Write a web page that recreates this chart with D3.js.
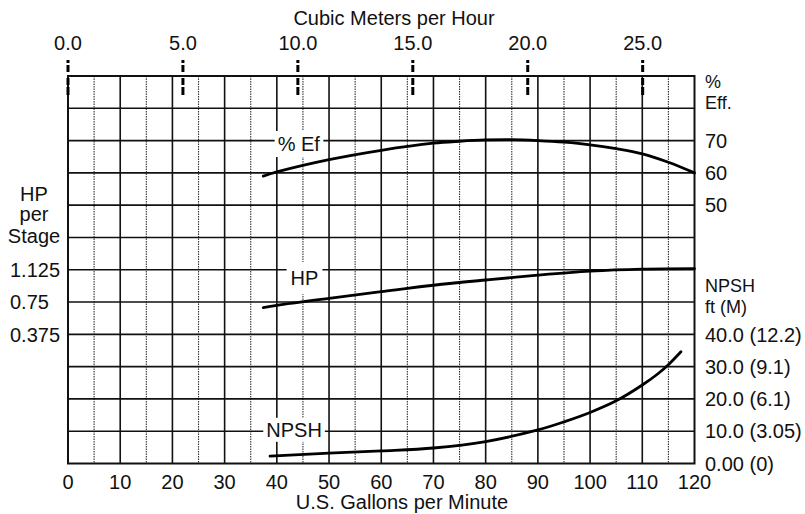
<!DOCTYPE html>
<html>
<head>
<meta charset="utf-8">
<script src="https://cdn.jsdelivr.net/npm/d3@7"></script>
<style>
  html, body { margin: 0; padding: 0; background: #fff; }
  svg { display: block; }
  text { font-family: "Liberation Sans", Arial, Helvetica, sans-serif; fill: #111; }
</style>
</head>
<body>
<svg id="chart" width="805" height="514"></svg>
<script>
// ---- data ----
const gpmTicks = [0, 10, 20, 30, 40, 50, 60, 70, 80, 90, 100, 110, 120];
const m3hTicks = [0, 5, 10, 15, 20, 25];
const m3hLabels = ["0.0", "5.0", "10.0", "15.0", "20.0", "25.0"];
const effTicks = [70, 60, 50];
const hpTicks = [1.125, 0.75, 0.375];
const hpLabels = ["1.125", "0.75", "0.375"];
const npshTicks = [40, 30, 20, 10, 0];
const npshLabels = ["40.0 (12.2)", "30.0 (9.1)", "20.0 (6.1)", "10.0 (3.05)", "0.00 (0)"];

const effGpm = [37.4, 40, 50, 60, 70, 75, 80, 85, 90, 95, 100, 105, 110, 115, 120];
const effVal = [59.0, 60.3, 64.1, 67.0, 69.2, 69.8, 70.2, 70.3, 70.0, 69.5, 68.7, 67.5, 65.9, 63.3, 60.0];

const hpGpm = [37.4, 40, 50, 60, 70, 80, 90, 100, 110, 120];
const hpVal = [0.686, 0.712, 0.793, 0.87, 0.945, 1.006, 1.062, 1.108, 1.132, 1.138];

const npshGpm = [38.7, 50, 60, 70, 80, 90, 95, 100, 105, 110, 113, 115, 117.4];
const npshVal = [2.3, 3.2, 3.9, 4.8, 6.8, 10.4, 12.9, 15.8, 19.4, 24.3, 27.8, 30.6, 34.6];

const GPM_PER_M3H = 4.4029;

// ---- layout ----
const svg = d3.select("#chart");
const L = 68, R = 694.5, T = 76, B = 463.5;
const FONT = 20;

const x = d3.scaleLinear().domain([0, 120]).range([L, R]);
const xTop = d3.scaleLinear().domain([0, 120 / GPM_PER_M3H]).range([L, R]);
const row = d3.scaleLinear().domain([0, 12]).range([B, T]);
const yEff = d3.scaleLinear().domain([-30, 90]).range([B, T]);
const yHp = d3.scaleLinear().domain([-1.125, 3.375]).range([B, T]);
const yNpsh = d3.scaleLinear().domain([0, 120]).range([B, T]);

// ---- grid ----
const g = svg.append("g");
g.selectAll("line.minor").data(d3.range(5, 120, 10)).join("line")
  .attr("x1", d => x(d)).attr("x2", d => x(d)).attr("y1", T).attr("y2", B)
  .attr("stroke", "#333").attr("stroke-width", 1.1).attr("stroke-dasharray", "1.5,1");
g.selectAll("line.vmaj").data(d3.range(10, 120, 10)).join("line")
  .attr("x1", d => x(d)).attr("x2", d => x(d)).attr("y1", T).attr("y2", B)
  .attr("stroke", "#111").attr("stroke-width", 1.6);
g.selectAll("line.h").data(d3.range(1, 12)).join("line")
  .attr("x1", L).attr("x2", R).attr("y1", d => row(d)).attr("y2", d => row(d))
  .attr("stroke", "#111").attr("stroke-width", 1.6);
g.append("rect").attr("x", L).attr("y", T).attr("width", R - L).attr("height", B - T)
  .attr("fill", "none").attr("stroke", "#111").attr("stroke-width", 2);

// ---- curve labels (white boxes break the grid) ----
function curveLabel(txt, gx, yScale, yv, padX, padY) {
  const cx = x(gx), cy = yScale(yv);
  const t = svg.append("text").attr("x", cx).attr("y", cy).attr("dy", "0.36em")
    .attr("text-anchor", "middle").attr("font-size", FONT).text(txt);
  const bb = t.node().getBBox();
  svg.insert("rect", "text").attr("x", bb.x - padX).attr("y", bb.y - padY)
    .attr("width", bb.width + 2 * padX).attr("height", bb.height + 2 * padY).attr("fill", "#fff");
}
curveLabel("% Ef", 44.2, yEff, 69.0, 3, 2);
curveLabel("HP", 45.3, yHp, 1.03, 4, 5);
curveLabel("NPSH", 43.3, yNpsh, 10.5, 3, 1);

// ---- curves ----
const lineGen = (ys) => d3.line().x(d => x(d[0])).y(d => ys(d[1])).curve(d3.curveCatmullRom.alpha(0.5));
[[effGpm, effVal, yEff], [hpGpm, hpVal, yHp], [npshGpm, npshVal, yNpsh]].forEach(([gx, gv, ys]) => {
  svg.append("path").datum(d3.zip(gx, gv)).attr("d", lineGen(ys))
    .attr("fill", "none").attr("stroke", "#000").attr("stroke-width", 2.8)
    .attr("stroke-linecap", "round");
});

// ---- top axis (cubic meters per hour) ----
svg.selectAll("line.topTick").data(m3hTicks).join("line")
  .attr("x1", d => xTop(d)).attr("x2", d => xTop(d)).attr("y1", 60).attr("y2", 95)
  .attr("stroke", "#000").attr("stroke-width", 3).attr("stroke-dasharray", "3,2,7,6,7,2,8");
svg.selectAll("text.topLab").data(m3hTicks).join("text")
  .attr("x", d => xTop(d)).attr("y", 50).attr("text-anchor", "middle")
  .attr("font-size", FONT).text((d, i) => m3hLabels[i]);
svg.append("text").attr("x", 394).attr("y", 25).attr("text-anchor", "middle")
  .attr("font-size", FONT).text("Cubic Meters per Hour");

// ---- bottom axis ----
svg.selectAll("text.botLab").data(gpmTicks).join("text")
  .attr("x", d => x(d)).attr("y", 489).attr("text-anchor", "middle")
  .attr("font-size", FONT).text(d => d);
svg.append("text").attr("x", 402).attr("y", 509).attr("text-anchor", "middle")
  .attr("font-size", FONT).text("U.S. Gallons per Minute");

// ---- left axis (HP per stage) ----
[["HP", 201], ["per", 221], ["Stage", 243]].forEach(([t, yy]) => {
  svg.append("text").attr("x", 34).attr("y", yy).attr("text-anchor", "middle")
    .attr("font-size", FONT).text(t);
});
svg.selectAll("text.hpLab").data(hpTicks).join("text")
  .attr("x", 10).attr("y", d => yHp(d)).attr("dy", "0.36em")
  .attr("font-size", FONT).text((d, i) => hpLabels[i]);

// ---- right axes (efficiency, NPSH) ----
svg.append("text").attr("x", 705).attr("y", 88).attr("font-size", 18).text("%");
svg.append("text").attr("x", 705).attr("y", 109).attr("font-size", 18).text("Eff.");
svg.selectAll("text.effLab").data(effTicks).join("text")
  .attr("x", 705).attr("y", d => yEff(d)).attr("dy", "0.36em")
  .attr("font-size", FONT).text(d => d);
svg.append("text").attr("x", 705).attr("y", 292).attr("font-size", 18).text("NPSH");
svg.append("text").attr("x", 705).attr("y", 313).attr("font-size", 18).text("ft (M)");
svg.selectAll("text.npshLab").data(npshTicks).join("text")
  .attr("x", 705).attr("y", d => yNpsh(d)).attr("dy", "0.36em")
  .attr("font-size", FONT).text((d, i) => npshLabels[i]);
</script>
</body>
</html>
